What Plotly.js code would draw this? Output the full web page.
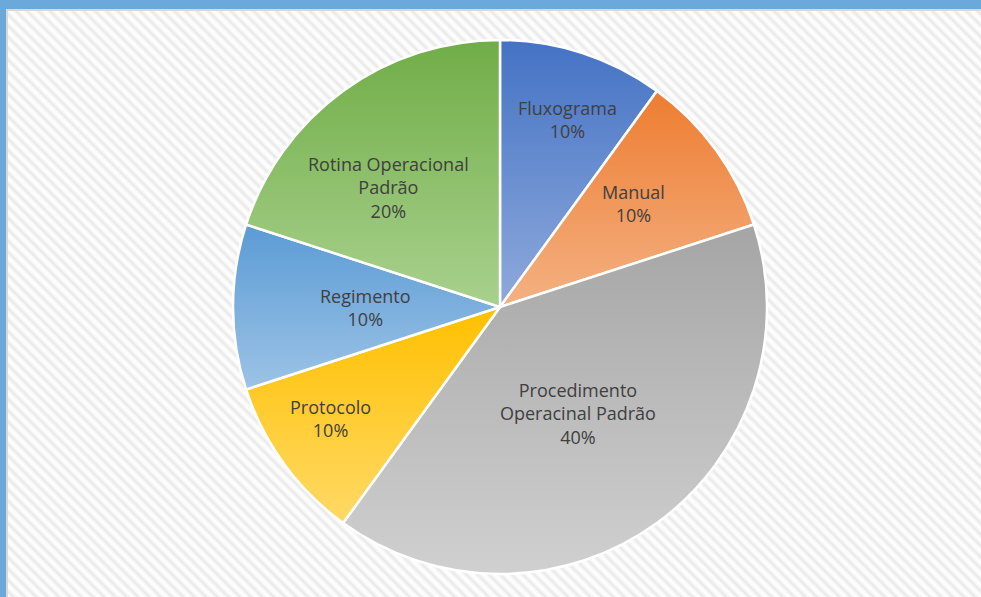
<!DOCTYPE html>
<html>
<head>
<meta charset="utf-8">
<script src="https://cdn.plot.ly/plotly-3.0.1.min.js"></script>
<style>
    html, body { margin: 0; padding: 0; }
    body {
        width: 981px; height: 597px; overflow: hidden;
        background: #6aa9d9;
    }
    #frame {
        position: absolute; left: 6px; top: 9px; right: 0; bottom: 0;
        border-left: 2px solid #d9d9d9; border-top: 2px solid #d9d9d9;
        background: repeating-linear-gradient(45deg, #ffffff 0px, #f7f7f7 2px, #e8e8e8 4px, #f7f7f7 6px, #ffffff 8px);
    }
    #graphDiv { position: absolute; left: 0; top: 0; width: 981px; height: 597px; }
</style>
</head>
<body>
<div id="frame"></div>
<div id="graphDiv"></div>
<script>
// Slices, clockwise from 12 o'clock
var labels = ["Fluxograma", "Manual", "Procedimento Operacinal Padrão", "Protocolo", "Regimento", "Rotina Operacional Padrão"];
var labelText = ["Fluxograma", "Manual", "Procedimento<br>Operacinal Padrão", "Protocolo", "Regimento", "Rotina Operacional<br>Padrão"];
var values = [10, 10, 40, 10, 10, 20];

// top / bottom colours of each slice gradient
var colorsTop = ["#4472c4", "#ed7d31", "#a5a5a5", "#ffc000", "#5b9bd5", "#70ad47"];
var colorsBottom = ["#8faadc", "#f4b183", "#d0d0d0", "#ffd966", "#9dc3e6", "#a9d18e"];

// label placement: fraction of radius and angle nudge (deg) from the slice middle
var labelRadius = [0.745, 0.633, 0.495, 0.76, 0.505, 0.61];
var labelTurn = [1.7, -1.6, 0, 2.5, 0, -7];

var dom = { x: [233 / 981, 767 / 981], y: [23 / 597, 557 / 597] };

var trace1 = {
    type: "pie",
    labels: labels,
    values: values,
    sort: false,
    direction: "clockwise",
    rotation: 0,
    textinfo: "none",
    marker: { colors: colorsTop, line: { color: "#ffffff", width: 2.5 } },
    domain: dom,
    hoverinfo: "none"
};

// labels placed around the slice mid angle
var total = values.reduce(function (a, b) { return a + b; }, 0);
var cx = (dom.x[0] + dom.x[1]) / 2, cy = (dom.y[0] + dom.y[1]) / 2;
var rx = (dom.x[1] - dom.x[0]) / 2, ry = (dom.y[1] - dom.y[0]) / 2;
var annotations = [];
var acc = 0;
values.forEach(function (v, i) {
    var mid = (acc + v / 2) / total * 2 * Math.PI + labelTurn[i] * Math.PI / 180;
    acc += v;
    annotations.push({
        xref: "paper", yref: "paper",
        x: cx + Math.sin(mid) * rx * labelRadius[i],
        y: cy + Math.cos(mid) * ry * labelRadius[i],
        text: labelText[i] + "<br>" + Math.round(v / total * 100) + "%",
        showarrow: false,
        align: "center",
        xanchor: "center", yanchor: "middle",
        font: { family: "Open Sans, sans-serif", size: 18, color: "#404040" }
    });
});

var layout = {
    width: 981,
    height: 597,
    margin: { l: 0, r: 0, t: 0, b: 0 },
    paper_bgcolor: "rgba(0,0,0,0)",
    plot_bgcolor: "rgba(0,0,0,0)",
    showlegend: false,
    font: { family: "Open Sans, sans-serif" },
    annotations: annotations
};

var graphDiv = document.getElementById("graphDiv");
Plotly.newPlot(graphDiv, [trace1], layout, { staticPlot: true }).then(function () {
    // vertical gradient per slice, like the spreadsheet chart
    var svg = graphDiv.querySelector("svg.main-svg");
    var ns = "http://www.w3.org/2000/svg";
    var defs = svg.querySelector("defs") || svg.insertBefore(document.createElementNS(ns, "defs"), svg.firstChild);
    var paths = graphDiv.querySelectorAll("g.slice path.surface");
    paths.forEach(function (p, i) {
        var g = document.createElementNS(ns, "linearGradient");
        g.setAttribute("id", "sliceGrad" + i);
        g.setAttribute("x1", "0"); g.setAttribute("y1", "0");
        g.setAttribute("x2", "0"); g.setAttribute("y2", "1");
        var s1 = document.createElementNS(ns, "stop");
        s1.setAttribute("offset", "0"); s1.setAttribute("stop-color", colorsTop[i]);
        var s2 = document.createElementNS(ns, "stop");
        s2.setAttribute("offset", "1"); s2.setAttribute("stop-color", colorsBottom[i]);
        g.appendChild(s1); g.appendChild(s2);
        defs.appendChild(g);
        p.style.fill = "url(#sliceGrad" + i + ")";
    });
});
</script>
</body>
</html>
